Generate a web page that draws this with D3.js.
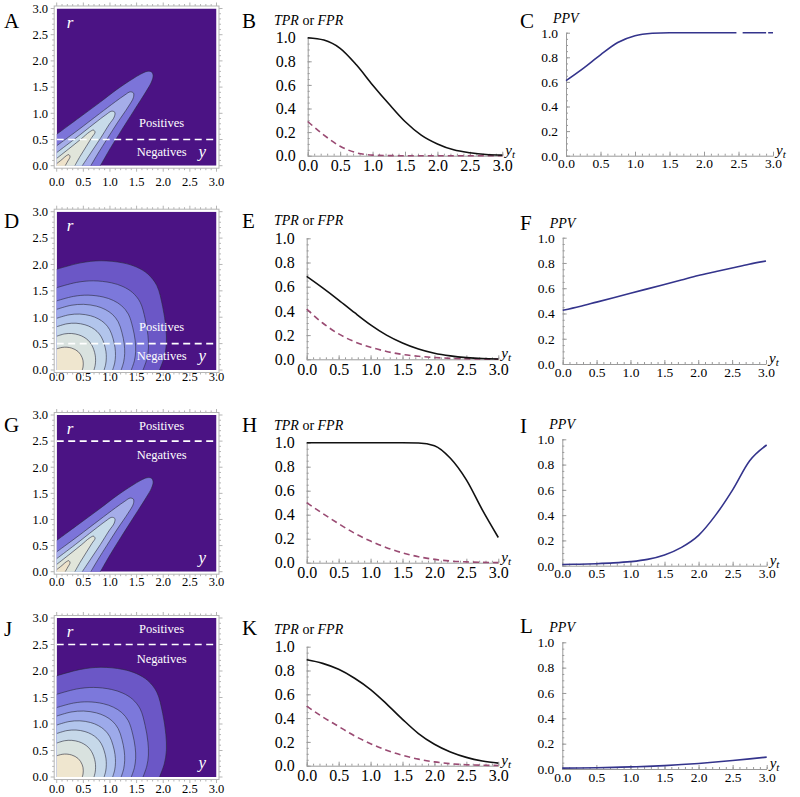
<!DOCTYPE html>
<html><head><meta charset="utf-8">
<script src="https://cdn.jsdelivr.net/npm/d3@7"></script>
<style>
body{margin:0;background:#fff}
svg{display:block}
text{font-family:"Liberation Serif","Times New Roman",serif}
</style>
</head><body>
<svg id="c" width="800" height="797"></svg>
<script>
// ---------------- DATA ----------------
const ytGrid = [0,0.25,0.5,0.75,1,1.25,1.5,1.75,2,2.25,2.5,2.75,3];
const tickLabels = ["0.0","0.5","1.0","1.5","2.0","2.5","3.0"];
const rateTickLabels = ["0.0","0.2","0.4","0.6","0.8","1.0"];

const tprB = [1.0,0.98,0.91,0.77,0.60,0.44,0.29,0.175,0.10,0.05,0.025,0.01,0.005];
const fprB = [0.29,0.175,0.08,0.025,0.005,0.001,0,0,0,0,0,0,0];
const ppvC = [0.61,0.71,0.82,0.92,0.975,0.995,1,1,1,1,1,1,1];
const ppvCGaps = [[2.47,2.56],[2.9,2.93]];

const tprE = [0.685,0.59,0.49,0.385,0.285,0.2,0.135,0.085,0.05,0.028,0.014,0.006,0.003];
const fprE = [0.415,0.3,0.21,0.145,0.1,0.065,0.04,0.025,0.015,0.008,0.004,0.002,0.001];
const ppvF = [0.425,0.455,0.49,0.525,0.56,0.595,0.63,0.665,0.7,0.73,0.76,0.79,0.815];

const tprH = [1,1,1,1,1,1,1,0.998,0.975,0.87,0.69,0.44,0.21];
const fprH = [0.5,0.41,0.325,0.245,0.18,0.125,0.082,0.05,0.028,0.014,0.007,0.003,0.001];
const ppvI = [0.01,0.012,0.016,0.022,0.032,0.05,0.085,0.145,0.24,0.4,0.6,0.83,0.955];

const tprK = [0.89,0.86,0.81,0.735,0.64,0.52,0.39,0.27,0.18,0.115,0.07,0.04,0.022];
const fprK = [0.5,0.41,0.33,0.25,0.185,0.13,0.088,0.055,0.032,0.017,0.008,0.004,0.002];
const ppvL = [0.007,0.008,0.01,0.013,0.017,0.021,0.027,0.035,0.044,0.055,0.067,0.08,0.094];

// contour boundaries of the strongly correlated density (panels A, G): [y, r] points, outermost first
const corrRings = [
  [[0,0.6],[0.4,0.9],[0.8,1.2],[1.15,1.47],[1.4,1.64],[1.58,1.75],[1.7,1.8],[1.78,1.79],[1.81,1.72],[1.78,1.6],[1.68,1.42],[1.45,1.05],[1.2,0.65],[1.0,0.32],[0.82,0]],
  [[0,0.38],[0.4,0.68],[0.8,0.99],[1.1,1.22],[1.28,1.35],[1.38,1.41],[1.44,1.39],[1.44,1.3],[1.34,1.12],[1.14,0.82],[0.94,0.5],[0.78,0.24],[0.64,0]],
  [[0,0.25],[0.35,0.52],[0.7,0.8],[0.92,0.97],[1.03,1.04],[1.09,1.02],[1.08,0.93],[0.98,0.78],[0.82,0.52],[0.65,0.26],[0.48,0]],
  [[0,0.14],[0.25,0.34],[0.47,0.52],[0.61,0.64],[0.69,0.68],[0.72,0.64],[0.66,0.54],[0.55,0.36],[0.44,0.18],[0.34,0]],
  [[0,0.04],[0.1,0.12],[0.18,0.19],[0.23,0.21],[0.25,0.17],[0.21,0.09],[0.16,0]]
];
// contour boundaries of the weakly correlated density (panels D, J):
// outline of the outermost and innermost rings (fractions of the intercepts),
// each ring's intercepts on the r axis and the y axis, and its blend between the two outlines
const outerShape = [[0,1],[0.233,1.063],[0.43,1.084],[0.642,1.063],[0.777,1.021],[0.886,0.953],[0.974,0.838],[1.031,0.628],[1.062,0.419],[1.067,0.262],[1.047,0.131],[1,0]];
const innerShape = [[0,1],[0.21,1.07],[0.4,1.08],[0.58,1.04],[0.72,0.97],[0.84,0.87],[0.93,0.74],[0.99,0.6],[1.03,0.44],[1.04,0.29],[1.03,0.14],[1,0]];
const roundLeft   = [1.91,1.56,1.31,1.15,0.98,0.82,0.64,0.40];
const roundBottom = [1.93,1.62,1.40,1.21,1.05,0.89,0.70,0.48];
const roundBlend  = [0,0.15,0.3,0.45,0.6,0.75,0.9,1];
const thresholds = [0.5,0.5,2.5,2.5];

// ---------------- STYLE ----------------
const SERIF = '"Liberation Serif","Times New Roman",serif';
const bgPurple = "#4b1384";
const corrFills  = ["#7c74d9","#a5ade9","#c7dbe9","#e1e5da","#eee2ca"];
const roundFills = ["#6b57c6","#7c78db","#8c92e4","#9daaea","#b2c5ec","#c6d8e9","#d9e2df","#efe6cf"];
const tprColor = "#111", fprColor = "#9a4b73", ppvColor = "#34348c", axisColor = "#9a9a9a";

// ---------------- LAYOUT ----------------
const cTop = [8.5,211.7,415,618], cBot = [165.7,370,571.7,777], cX0 = 56.7, cX1 = 216.5;
const cLab = [186,381,586,793];
const mX0 = [307.7,306.7,306.7,306.7], mX1 = [502.3,498.3,498.3,498.3];
const mY1 = [37.7,238.3,442.7,646.7], mY0 = [155.7,359.3,562.7,765.7];
const pX0 = [566,562.7,562.3,562.3], pX1 = [773,766,766.7,766.7];
const pY1 = [32.7,237.7,439.3,642.3], pY0 = [155.7,364,565.7,769];
const letterBase = [[28,28,28],[228,228,230],[432,432,433],[636,635,633]];
const letters = [["A","B","C"],["D","E","F"],["G","H","I"],["J","K","L"]];

const svg = d3.select("#c");
const defs = svg.append("defs");

function roundRing(i){
  const w = roundBlend[i];
  return outerShape.map((p,k) => {
    const q = innerShape[k];
    return [(p[0]*(1-w)+q[0]*w)*roundBottom[i], (p[1]*(1-w)+q[1]*w)*roundLeft[i]];
  });
}

function contourPanel(row, rings, fills){
  const x = d3.scaleLinear([0,3],[cX0,cX1]);
  const y = d3.scaleLinear([0,3],[cBot[row],cTop[row]]);
  const id = "clipc"+row;
  defs.append("clipPath").attr("id",id).append("rect")
    .attr("x",x(0)).attr("y",y(3)).attr("width",x(3)-x(0)).attr("height",y(0)-y(3));
  const g = svg.append("g");
  const pg = g.append("g").attr("clip-path","url(#"+id+")");
  pg.append("rect").attr("x",x(0)).attr("y",y(3)).attr("width",x(3)-x(0)).attr("height",y(0)-y(3)).attr("fill",bgPurple);
  const line = d3.line().x(d=>x(d[0])).y(d=>y(d[1])).curve(d3.curveCatmullRom.alpha(0.5));
  rings.forEach((pts,i)=>{
    const f = pts[0], l = pts[pts.length-1];
    const d = line(pts) + `L${x(l[0])},${y(-0.5)}L${x(-0.5)},${y(-0.5)}L${x(-0.5)},${y(f[1])}Z`;
    pg.append("path").attr("d",d).attr("fill",fills[i]);
  });
  rings.forEach(pts=>{
    pg.append("path").attr("d",line(pts)).attr("fill","none")
      .attr("stroke","#2a2a3a").attr("stroke-opacity",0.6).attr("stroke-width",1);
  });
  const t = thresholds[row];
  pg.append("line").attr("x1",x(0)).attr("x2",x(3)).attr("y1",y(t)).attr("y2",y(t))
    .attr("stroke","#fff").attr("stroke-width",1.6).attr("stroke-dasharray","7,4.5");
  const posR = t < 1 ? 0.74 : 2.72, negR = t < 1 ? 0.19 : 2.15;
  pg.append("text").attr("x",x(1.97)).attr("y",y(posR)).attr("text-anchor","middle")
    .attr("fill","#fff").attr("font-size",12.5).text("Positives");
  pg.append("text").attr("x",x(1.97)).attr("y",y(negR)).attr("text-anchor","middle")
    .attr("fill","#fff").attr("font-size",12.5).text("Negatives");
  pg.append("text").attr("x",cX0+10).attr("y",cTop[row]+19).attr("fill","#fff")
    .attr("font-size",17).attr("font-style","italic").text("r");
  pg.append("text").attr("x",cX1-18).attr("y",cBot[row]-9).attr("fill","#fff")
    .attr("font-size",17).attr("font-style","italic").text("y");
  const fx0 = x(0)-2.5, fx1 = x(3)+2.5, fy0 = y(3)-2.5, fy1 = y(0)+2.5;
  g.append("rect").attr("x",fx0).attr("y",fy0).attr("width",fx1-fx0).attr("height",fy1-fy0)
    .attr("fill","none").attr("stroke","#b5b5b5").attr("stroke-width",1);
  d3.range(0,31).forEach(k=>{
    const v = k/10, L = (k%5===0) ? 3.5 : 2;
    g.append("line").attr("x1",x(v)).attr("x2",x(v)).attr("y1",fy1).attr("y2",fy1+L).attr("stroke","#b5b5b5");
    g.append("line").attr("x1",x(v)).attr("x2",x(v)).attr("y1",fy0).attr("y2",fy0-L).attr("stroke","#b5b5b5");
    g.append("line").attr("y1",y(v)).attr("y2",y(v)).attr("x1",fx0).attr("x2",fx0-L).attr("stroke","#b5b5b5");
    g.append("line").attr("y1",y(v)).attr("y2",y(v)).attr("x1",fx1).attr("x2",fx1+L).attr("stroke","#b5b5b5");
  });
  tickLabels.forEach((s,i)=>{
    const v = i*0.5;
    g.append("text").attr("x",x(v)).attr("y",cLab[row]).attr("text-anchor","middle").attr("font-size",12.5).text(s);
    g.append("text").attr("x",48).attr("y",y(v)).attr("dy","0.35em").attr("text-anchor","end").attr("font-size",12.5).text(s);
  });
}

function axes(g, x, y, fs, pad, bottomPad){
  g.append("g").attr("transform",`translate(0,${y(0)})`)
    .call(d3.axisBottom(x).tickValues([0,0.5,1,1.5,2,2.5,3]).tickFormat((d,i)=>tickLabels[i])
      .tickSizeInner(-4).tickSizeOuter(0).tickPadding(bottomPad));
  g.append("g").attr("transform",`translate(0,${y(0)})`)
    .call(d3.axisBottom(x).tickValues(d3.range(0,31).map(k=>k/10)).tickFormat("").tickSizeInner(-2).tickSizeOuter(0))
    .call(s=>s.select(".domain").remove());
  g.append("g").attr("transform",`translate(${x(0)},0)`)
    .call(d3.axisLeft(y).tickValues([0,0.2,0.4,0.6,0.8,1]).tickFormat((d,i)=>rateTickLabels[i])
      .tickSizeInner(-4).tickSizeOuter(0).tickPadding(pad));
  g.append("g").attr("transform",`translate(${x(0)},0)`)
    .call(d3.axisLeft(y).tickValues(d3.range(0,21).map(k=>k/20)).tickFormat("").tickSizeInner(-2).tickSizeOuter(0))
    .call(s=>s.select(".domain").remove());
  g.selectAll(".domain").attr("stroke",axisColor);
  g.selectAll(".tick line").attr("stroke",axisColor);
  g.selectAll(".tick text").attr("font-size",fs).attr("fill","#000");
  const t = g.append("text").attr("x",x(3)+3).attr("y",y(0)-1).attr("font-size",15).attr("font-style","italic");
  t.append("tspan").text("y");
  t.append("tspan").attr("font-size",11).attr("dy",3).text("t");
}

function curve(g, x, y, vals, color, dash, clip){
  const line = d3.line().x((d,i)=>x(ytGrid[i])).y(d=>y(d)).curve(d3.curveMonotoneX);
  const p = g.append("path").attr("d",line(vals)).attr("fill","none").attr("stroke",color)
    .attr("stroke-width",1.6);
  if (dash) p.attr("stroke-dasharray",dash);
  if (clip) p.attr("clip-path","url(#"+clip+")");
}

function ratePanel(row, tpr, fpr){
  const x = d3.scaleLinear([0,3],[mX0[row],mX1[row]]);
  const y = d3.scaleLinear([0,1],[mY0[row],mY1[row]]);
  const g = svg.append("g");
  axes(g, x, y, 16, 12, 4);
  curve(g, x, y, fpr, fprColor, "6,4");
  curve(g, x, y, tpr, tprColor);
  const t = g.append("text").attr("x",274).attr("y",mY1[row]-13).attr("font-size",14);
  t.append("tspan").attr("font-style","italic").text("TPR");
  t.append("tspan").text(" or ");
  t.append("tspan").attr("font-style","italic").text("FPR");
}

function ppvPanel(row, ppv, gaps){
  const x = d3.scaleLinear([0,3],[pX0[row],pX1[row]]);
  const y = d3.scaleLinear([0,1],[pY0[row],pY1[row]]);
  const g = svg.append("g");
  axes(g, x, y, 13.5, 8, 3);
  let clip = null;
  if (gaps){
    clip = "clipp"+row;
    const cp = defs.append("clipPath").attr("id",clip);
    let start = -0.1;
    gaps.concat([[3.2,3.2]]).forEach(gp=>{
      cp.append("rect").attr("x",x(start)).attr("y",y(1)-20)
        .attr("width",x(gp[0])-x(start)).attr("height",y(0)-y(1)+40);
      start = gp[1];
    });
  }
  curve(g, x, y, ppv, ppvColor, null, clip);
  g.append("text").attr("x",pX0[row]-13).attr("y",pY1[row]-10).attr("font-size",14)
    .attr("font-style","italic").text("PPV");
}

const tprs = [tprB,tprE,tprH,tprK], fprs = [fprB,fprE,fprH,fprK], ppvs = [ppvC,ppvF,ppvI,ppvL];
for (let r=0;r<4;r++){
  const corr = (r===0 || r===2);
  const rings = corr ? corrRings : roundLeft.map((_,i)=>roundRing(i));
  contourPanel(r, rings, corr ? corrFills : roundFills);
  ratePanel(r, tprs[r], fprs[r]);
  ppvPanel(r, ppvs[r], r===0 ? ppvCGaps : null);
  [4,242,520].forEach((lx,c)=>{
    svg.append("text").attr("x",lx).attr("y",letterBase[r][c]).attr("font-size",21).text(letters[r][c]);
  });
}
svg.selectAll("text").style("font-family",SERIF);
</script>
</body></html>
